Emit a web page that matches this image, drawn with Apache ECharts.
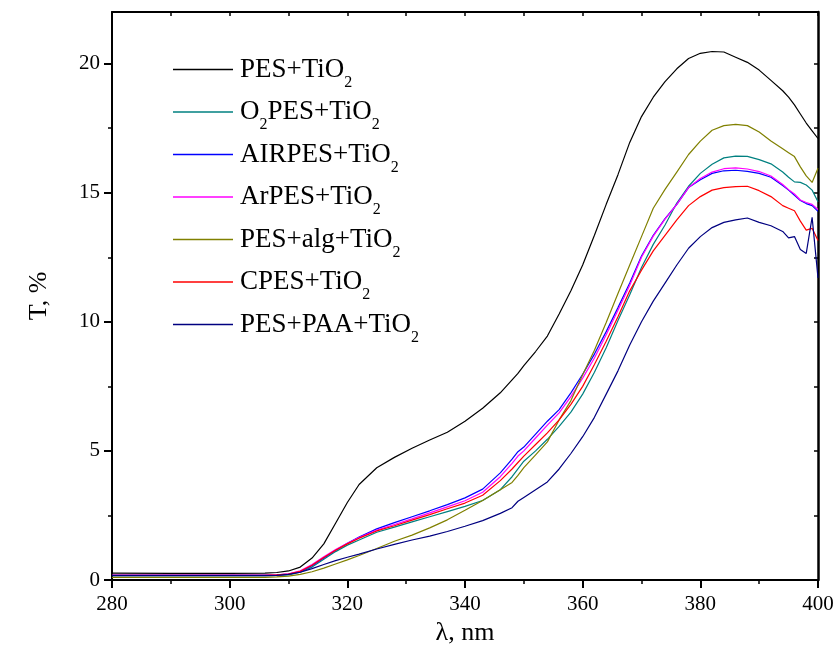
<!DOCTYPE html>
<html><head><meta charset="utf-8">
<script src="https://cdn.jsdelivr.net/npm/echarts@6/dist/echarts.min.js"></script>
<style>html,body{margin:0;padding:0;background:#fff}#c{width:838px;height:666px}</style>
</head><body><div id="c"></div>
<script>
const wavelengths = [280,290,300,306,308,310,312,314,316,318,320,322,325,328,331,334,337,340,343,346,348,349,350,352,354,356,358,360,362,364,366,368,370,372,374,376,378,380,382,384,386,388,390,392,394,395,396,397,398,399,400];

const pesTiO2 = [0.27,0.26,0.26,0.27,0.29,0.35,0.5,0.85,1.4,2.2,3.0,3.7,4.35,4.75,5.1,5.42,5.72,6.15,6.65,7.25,7.75,8.0,8.3,8.85,9.45,10.3,11.2,12.2,13.35,14.55,15.7,16.95,17.95,18.7,19.3,19.8,20.2,20.4,20.47,20.45,20.25,20.05,19.75,19.35,18.95,18.7,18.4,18.05,17.7,17.4,17.1];
const o2PesTiO2 = [0.17,0.17,0.17,0.17,0.18,0.2,0.3,0.5,0.8,1.1,1.35,1.55,1.85,2.05,2.25,2.45,2.65,2.85,3.08,3.5,4.0,4.3,4.6,5.0,5.45,5.95,6.5,7.2,8.05,9.0,10.05,11.05,12.1,13.0,13.75,14.6,15.25,15.75,16.1,16.35,16.42,16.41,16.28,16.12,15.8,15.6,15.42,15.4,15.3,15.1,14.65];
const airPesTiO2 = [0.19,0.19,0.19,0.19,0.2,0.23,0.32,0.55,0.85,1.15,1.42,1.66,1.98,2.22,2.45,2.68,2.92,3.18,3.52,4.15,4.68,4.97,5.15,5.65,6.15,6.6,7.25,7.97,8.75,9.62,10.55,11.5,12.55,13.35,14.0,14.55,15.2,15.5,15.75,15.85,15.87,15.83,15.75,15.6,15.28,15.1,14.9,14.7,14.58,14.5,14.28];
const arPesTiO2 = [0.18,0.18,0.18,0.18,0.2,0.24,0.36,0.6,0.9,1.18,1.42,1.64,1.93,2.15,2.37,2.6,2.83,3.07,3.4,4.0,4.52,4.8,5.0,5.5,6.0,6.47,7.1,7.82,8.6,9.5,10.45,11.42,12.5,13.32,13.98,14.55,15.2,15.55,15.8,15.93,15.96,15.92,15.82,15.65,15.32,15.12,14.95,14.72,14.62,14.55,14.35];
const pesAlgTiO2 = [0.1,0.1,0.1,0.1,0.12,0.15,0.22,0.32,0.46,0.62,0.78,0.95,1.22,1.5,1.74,2.02,2.33,2.7,3.08,3.5,3.78,4.05,4.35,4.85,5.35,6.2,6.95,7.95,8.9,9.97,11.1,12.2,13.3,14.4,15.13,15.8,16.48,17.0,17.42,17.6,17.65,17.6,17.35,17.0,16.7,16.55,16.4,16.0,15.65,15.4,15.95];
const cPesTiO2 = [0.18,0.18,0.18,0.18,0.2,0.23,0.34,0.57,0.87,1.15,1.4,1.62,1.9,2.1,2.32,2.53,2.76,2.98,3.28,3.85,4.3,4.55,4.8,5.25,5.7,6.2,6.8,7.5,8.35,9.25,10.2,11.2,12.0,12.75,13.35,13.95,14.5,14.85,15.1,15.2,15.24,15.25,15.08,14.85,14.5,14.4,14.3,13.9,13.55,13.62,13.15];
const pesPaaTiO2 = [0.17,0.17,0.17,0.17,0.18,0.22,0.3,0.44,0.6,0.75,0.88,1.0,1.2,1.38,1.55,1.7,1.88,2.08,2.3,2.58,2.8,3.05,3.2,3.5,3.8,4.3,4.9,5.55,6.3,7.2,8.1,9.1,10.0,10.8,11.5,12.2,12.85,13.3,13.65,13.85,13.95,14.02,13.85,13.72,13.5,13.25,13.3,12.8,12.65,14.05,11.7];

const seriesNames = ['PES+TiO2','O2PES+TiO2','AIRPES+TiO2','ArPES+TiO2','PES+alg+TiO2','CPES+TiO2','PES+PAA+TiO2'];
const seriesValues = [pesTiO2,o2PesTiO2,airPesTiO2,arPesTiO2,pesAlgTiO2,cPesTiO2,pesPaaTiO2];
const seriesColors = ['#000000','#008080','#0000ff','#ff00ff','#808000','#ff0000','#000080'];

const yMajorTicks = [0,5,10,15,20];
const yMinorTicks = [2.5,7.5,12.5,17.5];
const yRightTicks = [0,2.5,5,7.5,10,12.5,15,17.5,20];

const FONT = 'Liberation Serif';
const chart = echarts.init(document.getElementById('c'), null, {renderer:'canvas'});

function richName(name){
  return name.split('2').map(p => p ? '{m|' + p + '}' : '').join('{s|2}');
}

const series = seriesNames.map((n,k) => ({
  name:n, type:'line', symbol:'none', showSymbol:false, smooth:false,
  xAxisIndex:0, yAxisIndex:0,
  lineStyle:{color:seriesColors[k], width:1.2},
  itemStyle:{color:seriesColors[k]},
  data: wavelengths.map((x,i) => [x, seriesValues[k][i]])
}));

chart.setOption({
  animation:false,
  backgroundColor:'#fff',
  grid:{left:112, right:20, top:12, bottom:86, containLabel:false},
  legend:{
    orient:'vertical', left:173, top:56, padding:0, itemGap:8,
    icon:'rect', itemWidth:60, itemHeight:1.5, data:seriesNames,
    formatter: richName,
    textStyle:{fontFamily:FONT, color:'#000', padding:[0,0,0,2],
      rich:{
        m:{fontFamily:FONT, fontSize:27, lineHeight:42, color:'#000'},
        s:{fontFamily:FONT, fontSize:16, lineHeight:5, verticalAlign:'bottom', color:'#000'}
      }}
  },
  xAxis:[
    {type:'value', min:280, max:400, interval:20, position:'bottom',
     axisLine:{show:true, onZero:false, lineStyle:{color:'#000', width:2}},
     axisTick:{show:true, inside:false, length:8, lineStyle:{color:'#000', width:2}},
     minorTick:{show:true, splitNumber:2, length:4, lineStyle:{color:'#000', width:1.5}},
     axisLabel:{color:'#000', fontFamily:FONT, fontSize:21, margin:14},
     splitLine:{show:false}, minorSplitLine:{show:false},
     name:'λ, nm', nameLocation:'middle', nameGap:38,
     nameTextStyle:{color:'#000', fontFamily:FONT, fontSize:26}},
    {type:'value', min:280, max:400, interval:10, position:'top',
     axisLine:{show:true, onZero:false, lineStyle:{color:'#000', width:2}},
     axisTick:{show:true, inside:true, length:4, lineStyle:{color:'#000', width:1.5}},
     axisLabel:{show:false}, splitLine:{show:false}}
  ],
  yAxis:[
    {type:'value', min:0, max:22, interval:5, position:'left',
     axisLine:{show:true, onZero:false, lineStyle:{color:'#000', width:2}},
     axisTick:{show:true, inside:false, length:8, customValues:yMajorTicks, lineStyle:{color:'#000', width:2}},
     axisLabel:{color:'#000', fontFamily:FONT, fontSize:21, margin:12, customValues:yMajorTicks},
     splitLine:{show:false},
     name:'T, %', nameLocation:'middle', nameGap:60, nameRotate:90,
     nameTextStyle:{color:'#000', fontFamily:FONT, fontSize:26}},
    {type:'value', min:0, max:22, interval:2.5, position:'left', offset:0,
     axisLine:{show:false},
     axisTick:{show:true, inside:false, length:4, customValues:yMinorTicks, lineStyle:{color:'#000', width:1.5}},
     axisLabel:{show:false}, splitLine:{show:false}},
    {type:'value', min:0, max:22, interval:2.5, position:'right',
     axisLine:{show:true, onZero:false, lineStyle:{color:'#000', width:2.5}},
     axisTick:{show:true, inside:true, length:4, customValues:yRightTicks, lineStyle:{color:'#000', width:1.5}},
     axisLabel:{show:false}, splitLine:{show:false}}
  ],
  series: series
});
</script></body></html>
